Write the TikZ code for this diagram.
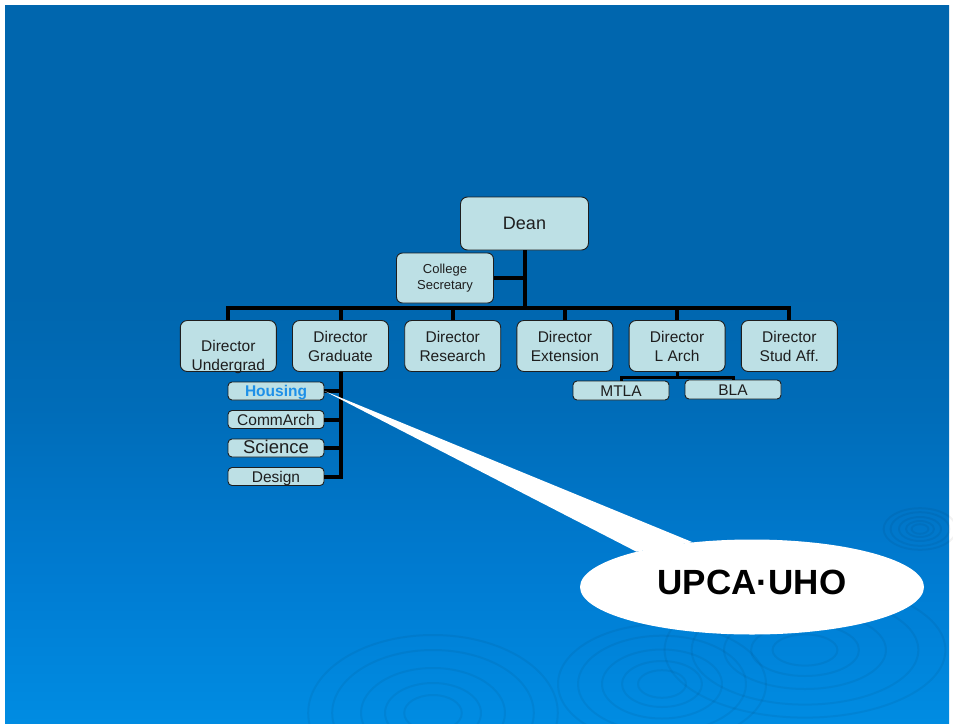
\documentclass[tikz,border=0pt]{standalone}
\usepackage{fontspec}
\setmainfont{Liberation Sans}
\usetikzlibrary{shapes.geometric}

\definecolor{slidetop}{RGB}{0,102,174}
\definecolor{slidemid}{RGB}{0,108,184}
\definecolor{slidelow}{RGB}{0,124,210}
\definecolor{slidebottom}{RGB}{0,140,226}
\definecolor{boxfill}{RGB}{189,224,229}
\definecolor{housingblue}{RGB}{30,144,232}
\definecolor{inkgray}{RGB}{30,30,30}

\pgfdeclareverticalshading{slideshade}{100bp}{color(0bp)=(slidebottom); color(25bp)=(slidebottom); color(35bp)=(slidelow); color(47bp)=(slidemid); color(55bp)=(slidetop); color(100bp)=(slidetop)}

\tikzset{
        orgbox/.style = {draw = inkgray, fill = boxfill, line width = 0.9pt, text = inkgray, align = center, inner sep = 0pt},
        role/.style = {orgbox, rounded corners = 7pt, minimum width = 96pt, minimum height = 51pt, font = {\fontsize{15.5}{19}\selectfont}},
        unit/.style = {orgbox, rounded corners = 4pt, minimum width = 96pt, minimum height = 18pt, text height = 11.2pt, text depth = 0pt, font = {\fontsize{15.5}{17}\selectfont}},
        link/.style = {line width = 4pt, black},
        sublink/.style = {line width = 3pt, black},
        ripple/.style = {draw = black, opacity = 0.05, line width = 2pt},
        callout/.style = {ellipse, fill = white, inner sep = 0pt, font = {\bfseries\fontsize{35}{40}\selectfont}},
}

\begin{document}
\begin{tikzpicture}[x = 1pt, y = -1pt]
        \useasboundingbox (0, 0) rectangle (953, 723);
        \fill[white] (0, 0) rectangle (953, 723);
        \shade[shading = slideshade] (5, 5) rectangle (949, 723);

        \foreach \cx/\cy/\rx/\ry in {433/713/48/30, 662/684/40/23, 805/650/54/26, 920/529/14/8}
                \foreach \k in {0.6, 1, 1.5, 2.1, 2.6}
                        \draw[ripple] (\cx, \cy) ellipse ({\k*\rx} and {\k*\ry});

        \node[role, minimum width = 128pt, minimum height = 53pt, font = {\fontsize{18}{22}\selectfont}] (dean) at (524.5, 223.5) {Dean};
        \node[role, minimum width = 97pt, minimum height = 50pt, rounded corners = 6pt, font = {\fontsize{13}{16}\selectfont}] (secretary) at (445, 278) {College\\Secretary};

        \node[role] (undergrad) at (228.3, 346) {\raisebox{-11pt}[\height][\depth]{\begin{tabular}{@{}c@{}}Director\\Undergrad\end{tabular}}};
        \node[role] (graduate) at (340.5, 346) {Director\\Graduate};
        \node[role] (research) at (452.7, 346) {Director\\Research};
        \node[role] (extension) at (564.9, 346) {Director\\Extension};
        \node[role] (larch) at (677.1, 346) {Director\\L Arch};
        \node[role] (studaff) at (789.3, 346) {Director\\Stud Aff.};

        \node[unit, text = housingblue, font = {\bfseries\fontsize{15.5}{17}\selectfont}] (housing) at (276, 391) {Housing};
        \node[unit] (commarch) at (276, 419.5) {CommArch};
        \node[unit, font = {\fontsize{18.5}{20}\selectfont}] (science) at (276, 448) {Science};
        \node[unit] (design) at (276, 476.5) {Design};
        \node[unit, minimum height = 19pt] (mtla) at (621, 390.5) {MTLA};
        \node[unit, minimum height = 19pt] (bla) at (733, 389.5) {BLA};

        \coordinate (bus) at (524.5, 308);
        \coordinate (archbus) at (677.1, 377.7);
        \draw[link] (dean.south) -- (bus);
        \draw[link] (secretary.east) -- (secretary.east -| dean.south);
        \draw[link] (undergrad.north) |- (bus) -| (studaff.north);
        \foreach \n in {graduate, research, extension, larch}
                \draw[link] (\n.north) -- (\n.north |- bus);
        \draw[link] (graduate.south) |- (design.east);
        \foreach \n in {housing, commarch, science}
                \draw[link] (\n.east) -- (\n.east -| graduate.south);
        \draw[sublink] (larch.south) -- (archbus);
        \draw[sublink] (mtla.north) |- (archbus) -| (bla.north);

        \node[callout, minimum width = 344pt, minimum height = 95pt, text depth = 9pt] (upca) at (752, 587) {UPCA·UHO};
        \fill[white] (housing.east) -- (upca.163) -- (upca.143) -- cycle;
\end{tikzpicture}
\end{document}
